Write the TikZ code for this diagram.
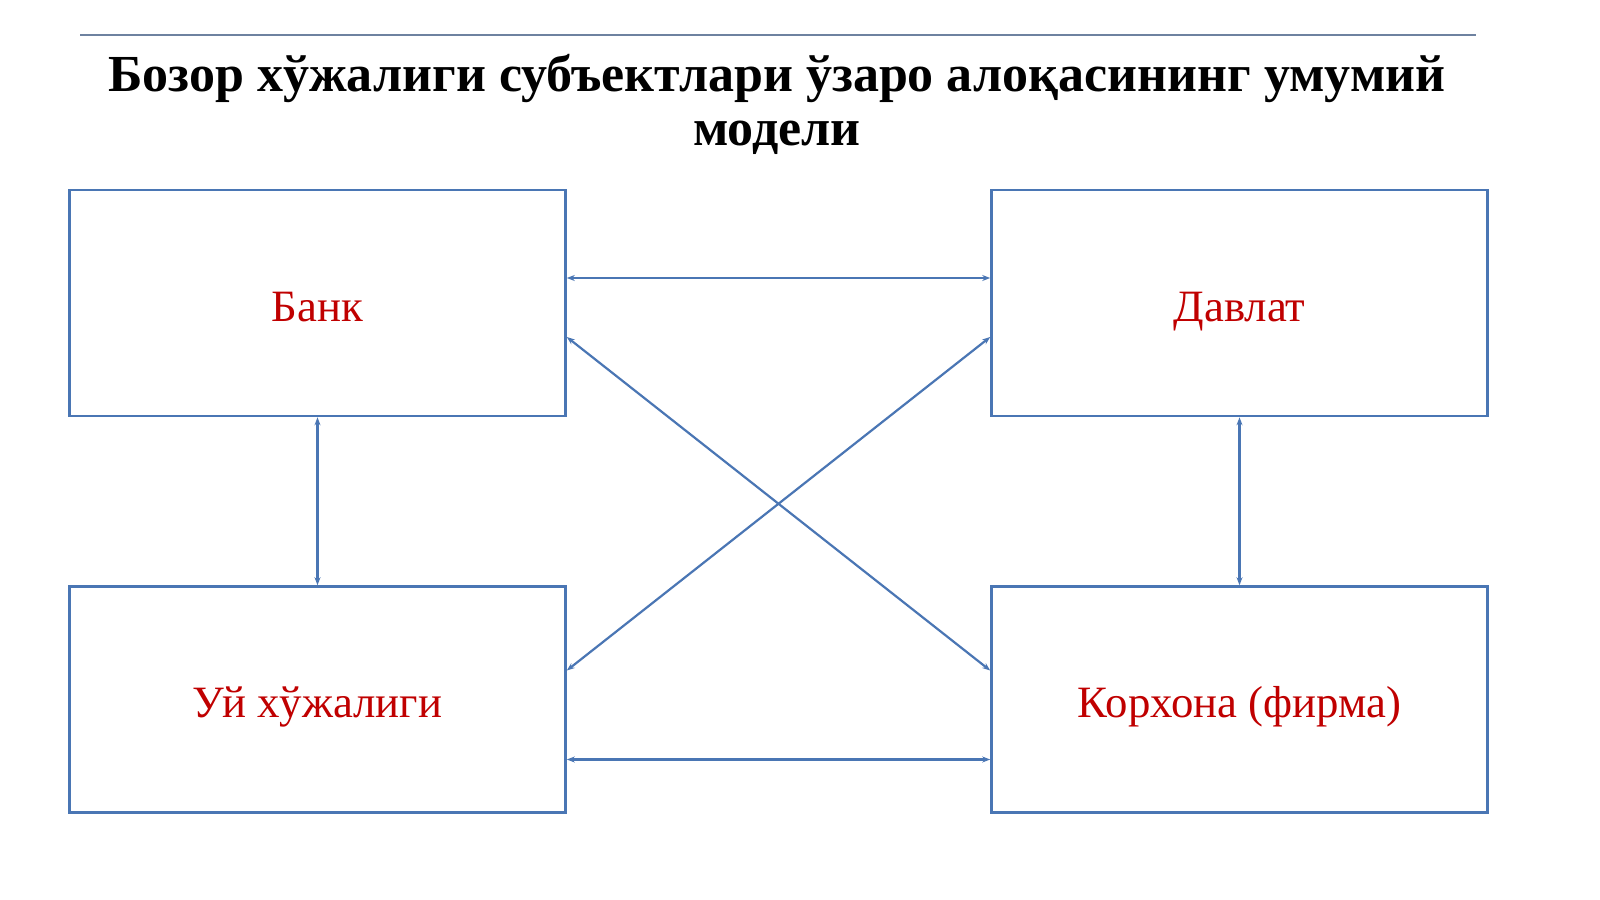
\documentclass[tikz,border=0pt]{standalone}
\usepackage{fontspec}
\setmainfont{Liberation Serif}
\usetikzlibrary{arrows.meta}
\definecolor{bx}{RGB}{74,118,180}
\definecolor{tx}{RGB}{192,0,0}
\definecolor{ln}{RGB}{110,130,160}
\begin{document}
\begin{tikzpicture}[x=0.5pt,y=-0.5pt,
  box/.style={draw=bx,line width=1.3pt,minimum width=248pt,minimum height=113pt,inner sep=0pt},
  lbl/.style={text=tx,font=\fontsize{22.4}{26}\selectfont,text height=15pt,text depth=4pt,inner sep=0pt},
  con/.style={draw=bx,line width=1.1pt,{Stealth[length=4pt,width=3pt]}-{Stealth[length=4pt,width=3pt]}}]
\useasboundingbox (0,0) rectangle (1600,899);
\fill[white] (0,0) rectangle (1600,899);
\draw[ln,line width=1pt] (80,35) -- (1476,35);
\node[font=\bfseries\fontsize{26}{27}\selectfont,align=center] (title) at (777,104) {Бозор хўжалиги субъектлари ўзаро алоқасининг умумий\\модели};
\node[box] (bank) at (317.5,303) {};
\node[box] (dav) at (1239.5,303) {};
\node[box] (uy) at (317.5,699.5) {};
\node[box] (kor) at (1239.5,699.5) {};
\node[lbl] (t1) at (317.5,310) {Банк};
\node[lbl] (t2) at (1239.5,310) {Давлат};
\node[lbl] (t3) at (317.5,706) {Уй хўжалиги};
\node[lbl] (t4) at (1239.5,706) {Корхона (фирма)};
\draw[con] ([yshift=12.5pt]bank.east) -- ([yshift=12.5pt]dav.west);
\draw[con] ([yshift=-30pt]uy.east) -- ([yshift=-30pt]kor.west);
\draw[con] (bank.south) -- (uy.north);
\draw[con] (dav.south) -- (kor.north);
\draw[con] ([yshift=-17pt]bank.east) -- ([yshift=14.5pt]kor.west);
\draw[con] ([yshift=-17pt]dav.west) -- ([yshift=14.5pt]uy.east);
\end{tikzpicture}
\end{document}
